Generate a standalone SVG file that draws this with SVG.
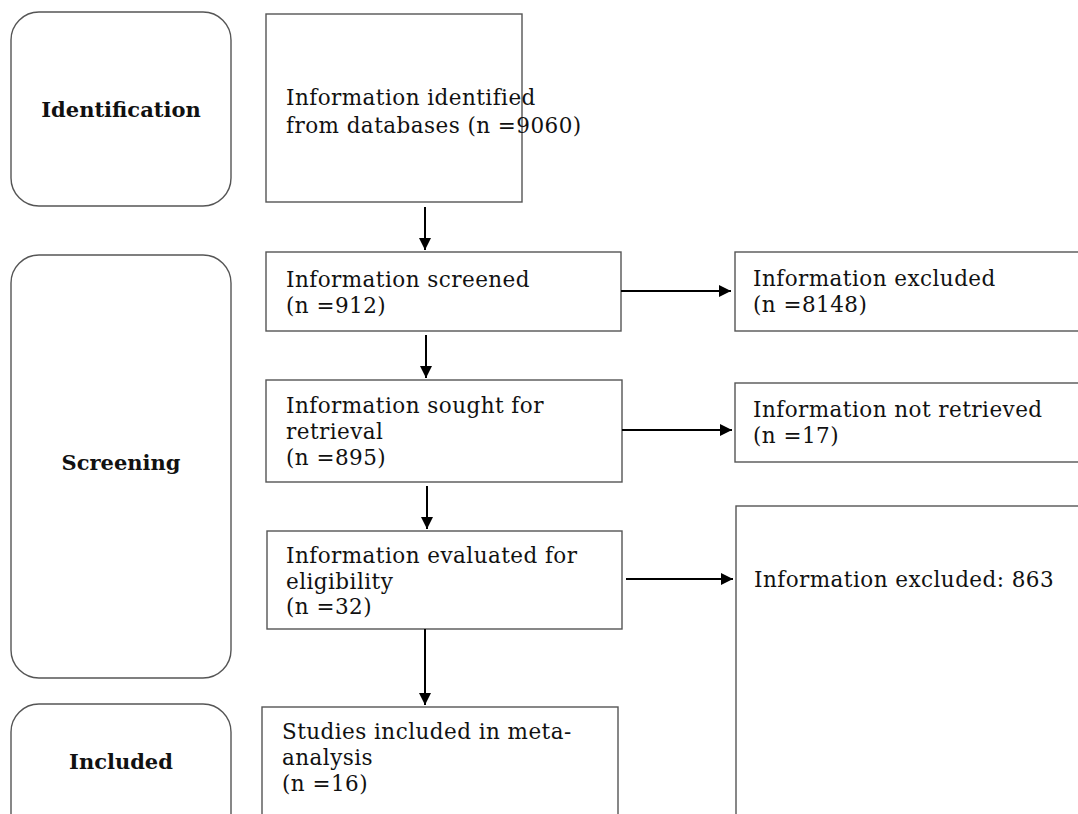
<svg xmlns="http://www.w3.org/2000/svg" width="1078" height="814" viewBox="0 0 1078 814">
<style>
.stage{fill:#fff;stroke:#555;stroke-width:1.4}
.box{fill:#fff;stroke:#555;stroke-width:1.4}
.t{font-family:"DejaVu Serif","Liberation Serif",serif;font-size:21.5px;letter-spacing:0.45px;fill:#111}
.b{font-family:"DejaVu Serif","Liberation Serif",serif;font-size:21px;font-weight:bold;fill:#111;text-anchor:middle}
.conn{stroke:#000;stroke-width:2;fill:none;marker-end:url(#ah)}
</style>
<defs>
<marker id="ah" viewBox="0 0 10 10" refX="10" refY="5" markerWidth="6" markerHeight="6" markerUnits="strokeWidth" orient="auto">
<path d="M0,0 L10,5 L0,10 z" fill="#000"/>
</marker>
</defs>
<rect width="1078" height="814" fill="#fff"/>
<g id="stage-identification">
<rect class="stage" x="11" y="12" width="220" height="194" rx="28"/>
<text class="b" x="121" y="117">Identification</text>
</g>
<g id="stage-screening">
<rect class="stage" x="11" y="255" width="220" height="423" rx="28"/>
<text class="b" x="121" y="470">Screening</text>
</g>
<g id="stage-included">
<rect class="stage" x="11" y="704" width="220" height="140" rx="28"/>
<text class="b" x="121" y="769">Included</text>
</g>
<g id="identified">
<rect class="box" x="266" y="14" width="256" height="188"/>
<text class="t" x="286" y="105">Information identified</text>
<text class="t" x="286" y="133">from databases (n =9060)</text>
</g>
<g id="screened">
<rect class="box" x="266" y="252" width="355" height="79"/>
<text class="t" x="286" y="287">Information screened</text>
<text class="t" x="286" y="313">(n =912)</text>
</g>
<g id="sought">
<rect class="box" x="266" y="380" width="356" height="102"/>
<text class="t" x="286" y="413">Information sought for</text>
<text class="t" x="286" y="439">retrieval</text>
<text class="t" x="286" y="465">(n =895)</text>
</g>
<g id="evaluated">
<rect class="box" x="267" y="531" width="355" height="98"/>
<text class="t" x="286" y="563">Information evaluated for</text>
<text class="t" x="286" y="589">eligibility</text>
<text class="t" x="286" y="614">(n =32)</text>
</g>
<g id="included">
<rect class="box" x="262" y="707" width="356" height="120"/>
<text class="t" x="282" y="739">Studies included in meta-</text>
<text class="t" x="282" y="765">analysis</text>
<text class="t" x="282" y="791">(n =16)</text>
</g>
<g id="excluded">
<rect class="box" x="735" y="252" width="360" height="79"/>
<text class="t" x="753" y="286">Information excluded</text>
<text class="t" x="753" y="312">(n =8148)</text>
</g>
<g id="not-retrieved">
<rect class="box" x="735" y="383" width="360" height="79"/>
<text class="t" x="753" y="417">Information not retrieved</text>
<text class="t" x="753" y="443">(n =17)</text>
</g>
<g id="excluded-863">
<rect class="box" x="736" y="506" width="360" height="330"/>
<text class="t" x="754" y="587">Information excluded: 863</text>
</g>
<g id="connectors">
<line class="conn" x1="425" y1="207" x2="425" y2="250"/>
<line class="conn" x1="426" y1="335" x2="426" y2="378"/>
<line class="conn" x1="427" y1="486" x2="427" y2="529"/>
<line class="conn" x1="425" y1="629" x2="425" y2="705"/>
<line class="conn" x1="621" y1="291" x2="731" y2="291"/>
<line class="conn" x1="622" y1="430" x2="732" y2="430"/>
<line class="conn" x1="626" y1="579" x2="733" y2="579"/>
</g>
</svg>
